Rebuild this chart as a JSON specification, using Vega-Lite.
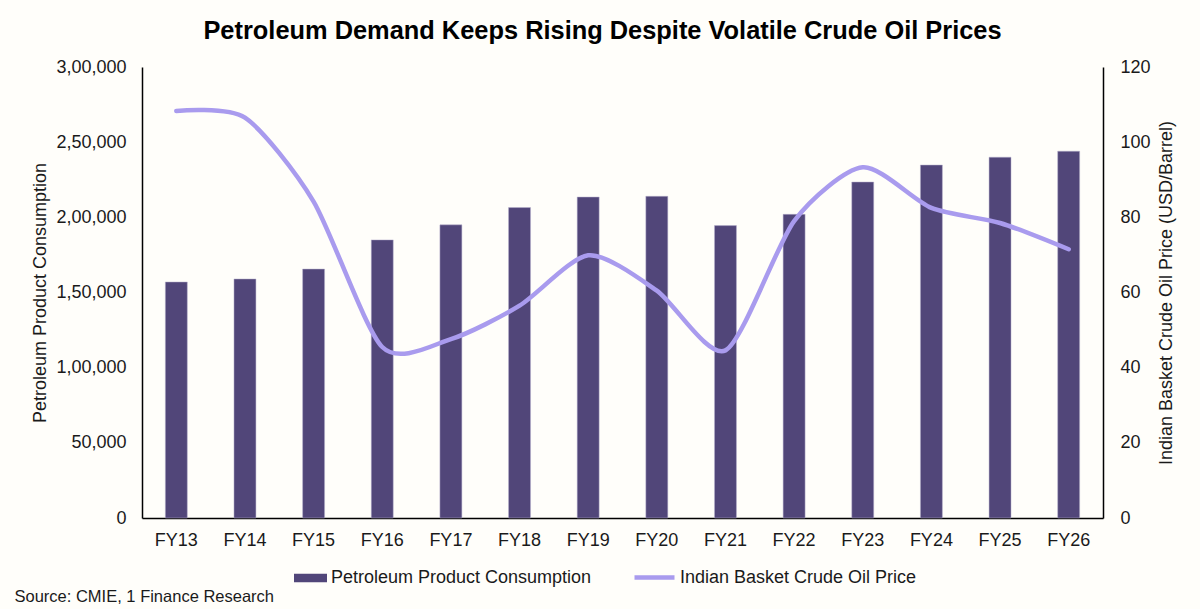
{
  "$schema": "https://vega.github.io/schema/vega-lite/v6.json",
  "width": 961,
  "height": 451,
  "autosize": "none",
  "padding": {"left": 142, "top": 67, "right": 97, "bottom": 91},
  "background": "#fffefa",
  "title": {
    "text": "Petroleum Demand Keeps Rising Despite Volatile Crude Oil Prices",
    "fontSize": 25.4,
    "fontWeight": "bold",
    "font": "Liberation Sans",
    "color": "#000000",
    "anchor": "middle",
    "dx": -20,
    "offset": 14
  },
  "data": {
    "values": [
      {"year": "FY13", "consumption": 157000, "price": 108.3, "barSeries": "Petroleum Product Consumption", "lineSeries": "Indian Basket Crude Oil Price"},
      {"year": "FY14", "consumption": 159000, "price": 106.5, "barSeries": "Petroleum Product Consumption", "lineSeries": "Indian Basket Crude Oil Price"},
      {"year": "FY15", "consumption": 165600, "price": 84.2, "barSeries": "Petroleum Product Consumption", "lineSeries": "Indian Basket Crude Oil Price"},
      {"year": "FY16", "consumption": 185000, "price": 45.5, "barSeries": "Petroleum Product Consumption", "lineSeries": "Indian Basket Crude Oil Price"},
      {"year": "FY17", "consumption": 195000, "price": 47.6, "barSeries": "Petroleum Product Consumption", "lineSeries": "Indian Basket Crude Oil Price"},
      {"year": "FY18", "consumption": 206500, "price": 56.5, "barSeries": "Petroleum Product Consumption", "lineSeries": "Indian Basket Crude Oil Price"},
      {"year": "FY19", "consumption": 213500, "price": 69.9, "barSeries": "Petroleum Product Consumption", "lineSeries": "Indian Basket Crude Oil Price"},
      {"year": "FY20", "consumption": 214000, "price": 60.5, "barSeries": "Petroleum Product Consumption", "lineSeries": "Indian Basket Crude Oil Price"},
      {"year": "FY21", "consumption": 194500, "price": 44.6, "barSeries": "Petroleum Product Consumption", "lineSeries": "Indian Basket Crude Oil Price"},
      {"year": "FY22", "consumption": 202000, "price": 79, "barSeries": "Petroleum Product Consumption", "lineSeries": "Indian Basket Crude Oil Price"},
      {"year": "FY23", "consumption": 223500, "price": 93.3, "barSeries": "Petroleum Product Consumption", "lineSeries": "Indian Basket Crude Oil Price"},
      {"year": "FY24", "consumption": 234800, "price": 82.5, "barSeries": "Petroleum Product Consumption", "lineSeries": "Indian Basket Crude Oil Price"},
      {"year": "FY25", "consumption": 240000, "price": 78.5, "barSeries": "Petroleum Product Consumption", "lineSeries": "Indian Basket Crude Oil Price"},
      {"year": "FY26", "consumption": 244000, "price": 71.5, "barSeries": "Petroleum Product Consumption", "lineSeries": "Indian Basket Crude Oil Price"}
    ]
  },
  "encoding": {
    "x": {
      "field": "year",
      "type": "nominal",
      "sort": null,
      "scale": {"paddingInner": 0.68, "paddingOuter": 0.34},
      "axis": {
        "labelAngle": 0,
        "labelPadding": 13,
        "ticks": false,
        "title": "Source: CMIE, 1 Finance Research",
        "titleAnchor": "start",
        "titleX": -128,
        "titleY": 70,
        "titleFontSize": 16.5,
        "titleFontWeight": "normal"
      }
    }
  },
  "layer": [
    {
      "mark": {"type": "bar", "stroke": "#b9b3cf", "strokeWidth": 0.5},
      "encoding": {
        "y": {
          "field": "consumption",
          "type": "quantitative",
          "scale": {"domain": [0, 300000], "nice": false},
          "axis": {
            "title": "Petroleum Product Consumption",
            "orient": "left",
            "values": [0, 50000, 100000, 150000, 200000, 250000, 300000],
            "format": ",d",
            "ticks": false,
            "labelPadding": 16,
            "titlePadding": 6
          }
        },
        "fill": {
          "field": "barSeries",
          "type": "nominal",
          "scale": {"range": ["#514679"]},
          "legend": {
            "orient": "none",
            "legendX": 152,
            "legendY": 494.5,
            "title": null,
            "symbolType": "M-1,-0.26H1V0.26H-1Z",
            "symbolSize": 1089,
            "symbolStrokeWidth": 0,
            "labelOffset": 4
          }
        }
      }
    },
    {
      "mark": {
        "type": "line",
        "interpolate": "cardinal",
        "tension": 0.25,
        "strokeWidth": 4.5,
        "strokeCap": "round"
      },
      "encoding": {
        "y": {
          "field": "price",
          "type": "quantitative",
          "scale": {"domain": [0, 120], "nice": false},
          "axis": {
            "title": "Indian Basket Crude Oil Price (USD/Barrel)",
            "titleAngle": 270,
            "titleBaseline": "top",
            "orient": "right",
            "values": [0, 20, 40, 60, 80, 100, 120],
            "ticks": false,
            "labelPadding": 17,
            "titlePadding": 7
          }
        },
        "stroke": {
          "field": "lineSeries",
          "type": "nominal",
          "scale": {"range": ["#a99bee"]},
          "legend": {
            "orient": "none",
            "legendX": 490,
            "legendY": 488,
            "title": null,
            "symbolType": "stroke",
            "symbolSize": 1600,
            "symbolStrokeWidth": 4.5,
            "labelOffset": 3
          }
        }
      }
    }
  ],
  "resolve": {"scale": {"y": "independent", "fill": "independent", "stroke": "independent"}},
  "config": {
    "locale": {
      "number": {"decimal": ".", "thousands": ",", "grouping": [3, 2], "currency": ["", ""]}
    },
    "font": "Liberation Sans",
    "view": {"stroke": null},
    "axis": {
      "grid": false,
      "domainColor": "#000000",
      "domainWidth": 1.5,
      "labelFont": "Liberation Sans",
      "labelFontSize": 18,
      "labelColor": "#1a1a1a",
      "titleFont": "Liberation Sans",
      "titleFontSize": 18,
      "titleFontWeight": "normal",
      "titleColor": "#1a1a1a"
    },
    "legend": {
      "labelFont": "Liberation Sans",
      "labelFontSize": 18,
      "labelColor": "#1a1a1a",
      "labelLimit": 320
    }
  }
}
